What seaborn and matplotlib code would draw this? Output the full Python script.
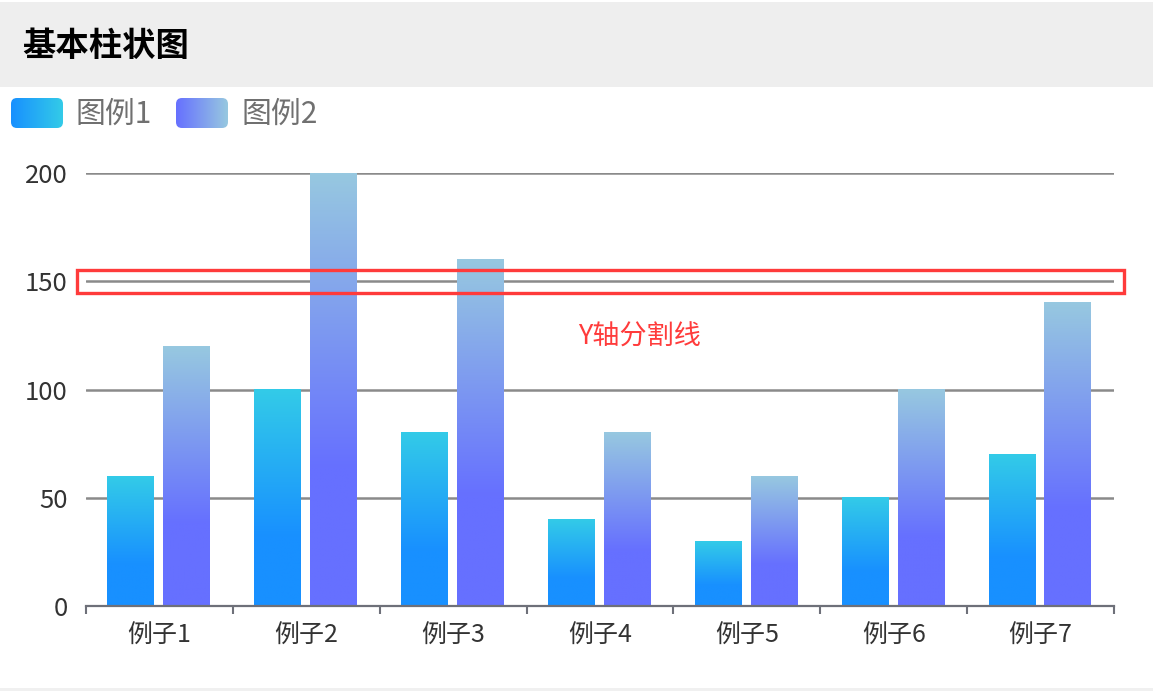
import numpy as np
import pandas as pd
import matplotlib
matplotlib.use("Agg")
import matplotlib.pyplot as plt
from matplotlib.patches import Rectangle, FancyBboxPatch
from matplotlib.colors import to_rgb
import seaborn as sns

# ---- data ----
categories = ["例子1", "例子2", "例子3", "例子4", "例子5", "例子6", "例子7"]
series_names = ["图例1", "图例2"]
series1 = [60, 100, 80, 40, 30, 50, 70]
series2 = [120, 200, 160, 80, 60, 100, 140]
yticks = [0, 50, 100, 150, 200]
title_text = "基本柱状图"
note_text = "Y轴分割线"

# gradient colours (top, bottom) per series
grad_top = ["#33CBE8", "#97C8E0"]
grad_bot = ["#1890FF", "#6670FF"]

sns.set_theme(style="white")
plt.rcParams['font.family'] = ['Noto Sans CJK SC', 'DejaVu Sans']

W, H = 1153, 691
fig = plt.figure(figsize=(W / 100, H / 100), dpi=100)
fig.patch.set_facecolor("white")

ax_l, ax_r, ax_t, ax_b = 86, 1114, 173, 606
ax = fig.add_axes([ax_l / W, 1 - ax_b / H, (ax_r - ax_l) / W, (ax_b - ax_t) / H])

df = pd.DataFrame({
    "cat": categories * 2,
    "series": [series_names[0]] * len(categories) + [series_names[1]] * len(categories),
    "val": series1 + series2,
})
sns.barplot(data=df, x="cat", y="val", hue="series", hue_order=series_names,
            order=categories, width=0.76, gap=0.17, palette=["#1890FF", "#6670FF"],
            legend=False, ax=ax, errorbar=None)


def vgrad(top, bot, stop=0.68, n=256):
    t = np.linspace(0, 1, n)
    f = np.clip(t / stop, 0, 1)[:, None]
    c0 = np.array(to_rgb(top))
    c1 = np.array(to_rgb(bot))
    return (c0 * (1 - f) + c1 * f)[:, None, :]


for i, cont in enumerate(ax.containers):
    img = vgrad(grad_top[i], grad_bot[i])
    for p in cont.patches:
        x0, w, h = p.get_x(), p.get_width(), p.get_height()
        p.set_visible(False)
        ax.imshow(img, extent=[x0 - 0.006, x0 + w - 0.006, 0, h], origin="upper",
                  aspect="auto", zorder=2, interpolation="bilinear")

ax.set_xlim(-0.5, len(categories) - 0.5)
ax.set_ylim(0, 200)
ax.set_yticks(yticks)
ax.set_yticklabels([str(v) for v in yticks])
ax.set_xlabel("")
ax.set_ylabel("")

for s in ["top", "right", "left"]:
    ax.spines[s].set_visible(False)
ax.spines["bottom"].set_color("#6E7079")
ax.spines["bottom"].set_linewidth(1.6)
ax.spines["bottom"].set_zorder(3)

ax.set_axisbelow(True)
ax.yaxis.grid(True, color="#8A8A8A", linewidth=1.8)
ax.xaxis.grid(False)

ax.tick_params(axis="y", length=0, pad=13, labelsize=18.5, labelcolor="#333333")
ax.tick_params(axis="x", which="major", length=0, pad=12, labelsize=18, labelcolor="#333333")
ax.set_xticks(np.arange(-0.5, len(categories), 1.0), minor=True)
ax.tick_params(axis="x", which="minor", bottom=True, length=6, width=1.5,
               color="#6E7079", direction="out")

# ---- overlay for title bar, legend, annotation ----
ov = fig.add_axes([0, 0, 1, 1], zorder=10)
ov.set_xlim(0, W)
ov.set_ylim(H, 0)
ov.axis("off")
ov.patch.set_alpha(0)

ov.add_patch(Rectangle((0, 2), W, 85, facecolor="#EEEEEE", edgecolor="none"))
ov.add_patch(Rectangle((0, 688), W, 3, facecolor="#F0F0F0", edgecolor="none"))
ov.text(22, 46, title_text, fontsize=24, fontweight="bold", color="#000000",
        ha="left", va="center")

# legend
leg_x = [11, 176]
for i, name in enumerate(series_names):
    x0, y0, w, h = leg_x[i], 98, 52, 30
    c0 = np.array(to_rgb(grad_bot[i]))
    c1 = np.array(to_rgb(grad_top[i]))
    t = np.linspace(0, 1, 128)[None, :, None]
    img = c0 * (1 - t) + c1 * t
    im = ov.imshow(img, extent=[x0, x0 + w, y0 + h, y0], origin="upper",
                   aspect="auto", interpolation="bilinear", zorder=5)
    clip = FancyBboxPatch((x0, y0), w, h, boxstyle="round,pad=0,rounding_size=6",
                          facecolor="none", edgecolor="none", transform=ov.transData)
    ov.add_patch(clip)
    im.set_clip_path(clip)
    ov.text(x0 + w + 13, y0 + h / 2 + 1, name, fontsize=21.5, color="#707070",
            ha="left", va="center")
ov.set_xlim(0, W)
ov.set_ylim(H, 0)

# annotation box
ov.add_patch(Rectangle((77, 270), 1124 - 77, 293 - 270, facecolor="none",
                       edgecolor="#FF3B3B", linewidth=2.4, zorder=6))
ov.text(578, 337, note_text, fontsize=19.5, color="#FF3B3B", ha="left", va="center")

fig.savefig("out.png", dpi=100)
